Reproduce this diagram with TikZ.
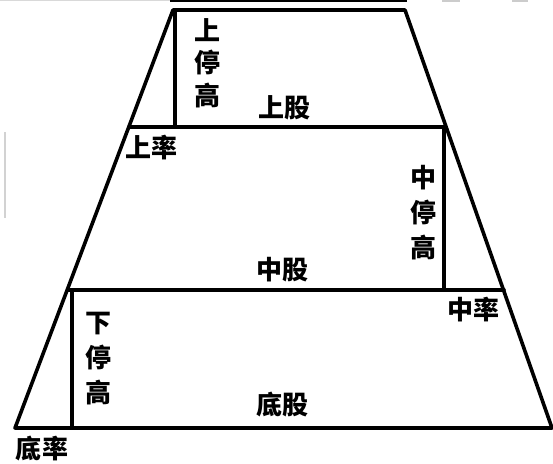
\documentclass[tikz,border=0pt]{standalone}
\usepackage{fontspec}
\newfontfamily\cjk{Noto Sans CJK SC}
\begin{document}
\begin{tikzpicture}[x=1pt,y=-1pt,
  edge/.style={line width=3.6pt,line join=round,line cap=round},
  lbl/.style={font=\cjk\bfseries\fontsize{26}{33}\selectfont,inner sep=0pt,align=center},
  marks/.style={line width=2.5pt,color=gray!40}]
\useasboundingbox (0,0) rectangle (553,463);
\fill[white] (0,0) rectangle (553,463);
% screenshot artifacts at the top and left
\draw[line width=1pt,gray!30] (0,0.5) -- (170,0.5);
\draw[line width=2.5pt,black] (170,1.2) -- (407,1.2);
\draw[marks] (442,1.2) -- (460,1.2);
\draw[marks] (512,1.2) -- (528,1.2);
\draw[line width=1.5pt,gray!35] (5,132) -- (5,218);
% corners
\coordinate (tl) at (173,10);
\coordinate (tr) at (405,10);
\coordinate (bl) at (15,428);
\coordinate (br) at (552,428);
\coordinate (m1l) at (129,127);
\coordinate (m1r) at (445,127);
\coordinate (m2l) at (68,290);
\coordinate (m2r) at (504,290);
\coordinate (v1t) at (175,10);
\coordinate (v1b) at (175,127);
\coordinate (v2t) at (444,127);
\coordinate (v2b) at (444,290);
\coordinate (v3t) at (72,290);
\coordinate (v3b) at (72,428);
% outline
\draw[edge] (bl) -- (tl) -- (tr) -- (br) -- cycle;
\draw[edge] (m1l) -- (m1r);
\draw[edge] (m2l) -- (m2r);
\draw[edge] (v1t) -- (v1b);
\draw[edge] (v2t) -- (v2b);
\draw[edge] (v3t) -- (v3b);
% labels
\node[lbl,font=\cjk\bfseries\fontsize{26}{32.5}\selectfont] (shangtinggao) at (207,63) {上\\停\\高};
\node[lbl] (shanggu) at (284,108) {上股};
\node[lbl] (shanglv) at (151,148) {上率};
\node[lbl,font=\cjk\bfseries\fontsize{26}{35}\selectfont] (zhongtinggao) at (423,213) {中\\停\\高};
\node[lbl] (zhonggu) at (282,270) {中股};
\node[lbl] (zhonglv) at (473,310) {中率};
\node[lbl,font=\cjk\bfseries\fontsize{26}{35}\selectfont] (xiatinggao) at (98,359) {下\\停\\高};
\node[lbl] (digu) at (282,405) {底股};
\node[lbl] (dilv) at (42,449) {底率};
\end{tikzpicture}
\end{document}
